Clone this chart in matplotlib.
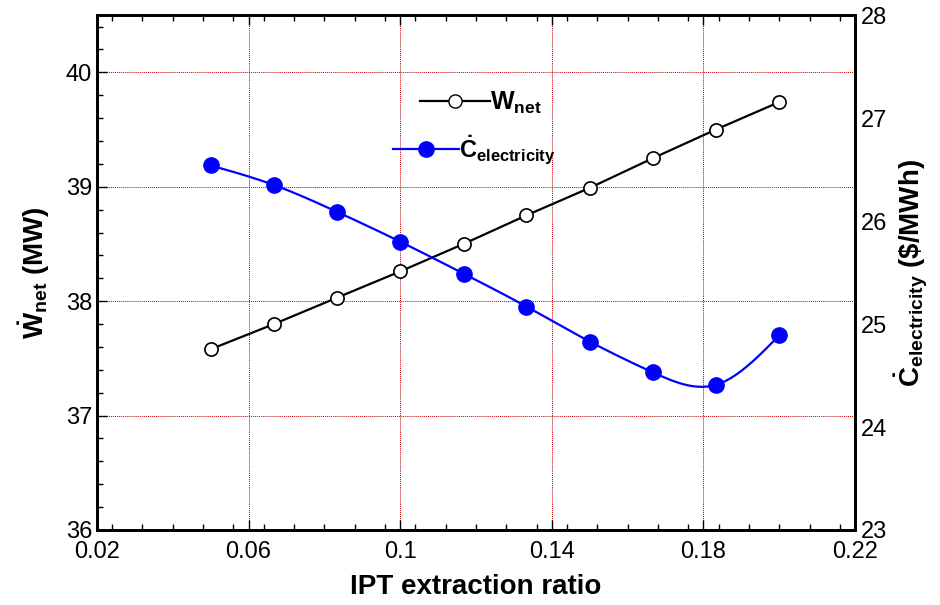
import numpy as np
import matplotlib
matplotlib.use('Agg')
import matplotlib.pyplot as plt
from matplotlib.ticker import MultipleLocator

plt.rcParams['font.family'] = ['Liberation Sans', 'DejaVu Sans']
plt.rcParams['mathtext.fontset'] = 'custom'
plt.rcParams['mathtext.rm'] = 'Liberation Sans'
plt.rcParams['mathtext.bf'] = 'Liberation Sans:bold'
plt.rcParams['mathtext.it'] = 'Liberation Sans:italic'

# Data
extraction_ratio = [0.05, 0.0667, 0.0833, 0.1, 0.1167, 0.1333, 0.15, 0.1667, 0.1833, 0.2]
w_net = [37.58, 37.80, 38.03, 38.26, 38.50, 38.75, 38.99, 39.25, 39.50, 39.74]
c_electricity = [26.54, 26.35, 26.09, 25.80, 25.49, 25.17, 24.83, 24.53, 24.41, 24.89]


def natural_spline(x, y, n=300):
    # smooth curve through the points for drawing (natural cubic spline)
    x = np.asarray(x, float)
    y = np.asarray(y, float)
    k = len(x)
    h = np.diff(x)
    A = np.zeros((k, k))
    r = np.zeros(k)
    A[0, 0] = A[-1, -1] = 1
    for i in range(1, k - 1):
        A[i, i - 1] = h[i - 1]
        A[i, i] = 2 * (h[i - 1] + h[i])
        A[i, i + 1] = h[i]
        r[i] = 3 * ((y[i + 1] - y[i]) / h[i] - (y[i] - y[i - 1]) / h[i - 1])
    c = np.linalg.solve(A, r)
    xs = np.linspace(x[0], x[-1], n)
    ys = np.empty_like(xs)
    for j, xv in enumerate(xs):
        i = min(np.searchsorted(x, xv, side='right') - 1, k - 2)
        b = (y[i + 1] - y[i]) / h[i] - h[i] * (2 * c[i] + c[i + 1]) / 3
        d = (c[i + 1] - c[i]) / (3 * h[i])
        t = xv - x[i]
        ys[j] = y[i] + b * t + c[i] * t ** 2 + d * t ** 3
    return xs, ys


fig = plt.figure(figsize=(9.4, 6.05), dpi=100)
ax = fig.add_axes([0.1032, 0.124, 0.8064, 0.851])
ax2 = ax.twinx()

# Left axis: W_net
ax.plot(extraction_ratio, w_net, color='black', lw=1.6, marker='o',
        markersize=9.5, markerfacecolor='white', markeredgecolor='black',
        markeredgewidth=1.2, zorder=3)
ax.set_xlim(0.02, 0.22)
ax.set_ylim(36, 40.5)
ax.set_xticks([0.02, 0.06, 0.1, 0.14, 0.18, 0.22])
ax.set_xticklabels(['0.02', '0.06', '0.1', '0.14', '0.18', '0.22'])
ax.xaxis.set_minor_locator(MultipleLocator(0.008))
ax.set_yticks([36, 37, 38, 39, 40])
ax.yaxis.set_minor_locator(MultipleLocator(0.2))
ax.tick_params(which='both', direction='in', top=True, right=False, labelsize=17)
ax.tick_params(which='major', length=7, width=1)
ax.tick_params(which='minor', length=4, width=1)
ax.tick_params(axis='x', pad=8)
ax.grid(True, which='major', color='#c00000', linestyle=(0, (1, 1)), linewidth=0.7)
ax.set_axisbelow(True)
for s in ax.spines.values():
    s.set_linewidth(2)
ax.set_xlabel('IPT extraction ratio', fontsize=20, fontweight='bold', labelpad=8)
ax.set_ylabel(r'$\mathbf{\dot{W}_{net}}$ (MW)', fontsize=20, fontweight='bold', labelpad=10)

# Right axis: cost of electricity
xs, ys = natural_spline(extraction_ratio, c_electricity)
ax2.plot(xs, ys, color='#0000ff', lw=1.6, zorder=2)
ax2.plot(extraction_ratio, c_electricity, linestyle='none', marker='o', markersize=11,
         color='#0000ff', zorder=3)
ax2.set_ylim(23, 28)
ax2.set_yticks([23, 24, 25, 26, 27, 28])
ax2.tick_params(which='both', direction='in', length=0, labelsize=17, pad=4)
for s in ax2.spines.values():
    s.set_linewidth(2)
ax2.set_ylabel(r'$\mathbf{\dot{C}_{electricity}}$ (\$/MWh)', fontsize=20,
               fontweight='bold', labelpad=4)

# Legend entries
h_w = plt.Line2D([0], [0], color='black', lw=1.6, marker='o', markersize=9.5,
                 markerfacecolor='white', markeredgecolor='black')
h_c = plt.Line2D([0], [0], color='#0000ff', lw=1.6, marker='o', markersize=11)
leg1 = ax2.legend([h_w], [r'$\mathbf{W_{net}}$'], loc='center left',
                  bbox_to_anchor=(0.397, 0.83), frameon=False, fontsize=18,
                  handlelength=2.8, handletextpad=0.0)
ax2.add_artist(leg1)
ax2.legend([h_c], [r'$\mathbf{\dot{C}_{electricity}}$'], loc='center left',
           bbox_to_anchor=(0.362, 0.738), frameon=False, fontsize=17,
           handlelength=2.8, handletextpad=0.0)

fig.savefig('out.png', dpi=100)
